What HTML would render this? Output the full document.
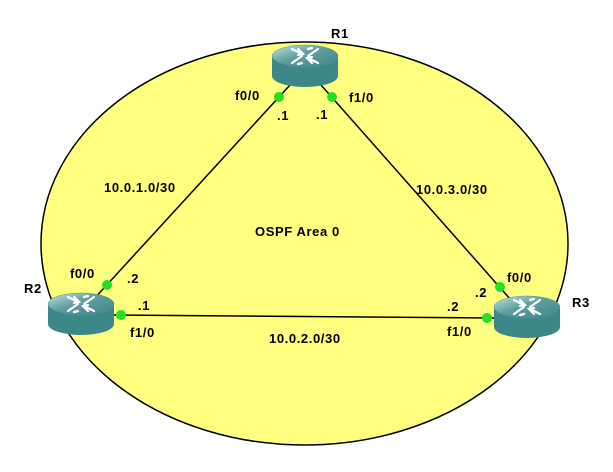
<!DOCTYPE html>
<html><head><style>
html,body{margin:0;padding:0;background:#fff;}
svg text{font-family:"Liberation Sans",sans-serif;font-weight:bold;font-size:13px;letter-spacing:0.6px;fill:#000;}
</style></head><body>
<svg width="613" height="467" viewBox="0 0 613 467" xmlns="http://www.w3.org/2000/svg">
<defs>
<linearGradient id="tg" x1="0" y1="0" x2="1" y2="1">
<stop offset="0" stop-color="#c9e4e4"/><stop offset="0.45" stop-color="#5f9ea0"/><stop offset="1" stop-color="#3f8585"/>
</linearGradient>
<g id="rt">
<path d="M0,11 L0,31 A33,11 0 0 0 66,31 L66,11 Z" fill="#3c8787"/>
<ellipse cx="33" cy="11" rx="33" ry="11" fill="url(#tg)" stroke="#4a9595" stroke-width="0.5"/>
<g stroke="#fff" stroke-width="2.2" fill="none" stroke-linecap="round">
<path d="M20,4 L30,9 M26,4 L31,9 L26,10"/>
<path d="M46,18 L36,13 M40,18 L35,13 L40,12"/>
<path d="M46,4 L36,11 M40,3 L36,4"/>
<path d="M20,18 L30,11 M26,19 L30,18"/>
</g>
</g>
</defs>
<ellipse cx="304.5" cy="243.5" rx="263.5" ry="201.5" fill="#ffff80" stroke="#000" stroke-width="1.5"/>
<g stroke="#000" stroke-width="1.5">
<line x1="290" y1="85" x2="93" y2="300"/>
<line x1="321" y1="85" x2="511" y2="300"/>
<line x1="113" y1="315" x2="494" y2="318"/>
</g>
<use href="#rt" x="272" y="45"/>
<use href="#rt" x="48" y="293"/>
<use href="#rt" x="494" y="296"/>
<g fill="#22e022">
<circle cx="279" cy="97" r="5"/><circle cx="332" cy="97" r="5"/>
<circle cx="107" cy="285" r="5"/><circle cx="121" cy="315" r="5"/>
<circle cx="500" cy="287" r="5"/><circle cx="487" cy="318" r="5"/>
</g>
<text x="331" y="38">R1</text>
<text x="24" y="293">R2</text>
<text x="572" y="307">R3</text>
<text x="255" y="236">OSPF Area 0</text>
<text x="104" y="192">10.0.1.0/30</text>
<text x="416" y="194">10.0.3.0/30</text>
<text x="269" y="343">10.0.2.0/30</text>
<text x="235" y="100">f0/0</text>
<text x="277" y="120">.1</text>
<text x="316" y="119">.1</text>
<text x="349" y="102">f1/0</text>
<text x="70" y="278">f0/0</text>
<text x="127" y="283">.2</text>
<text x="138" y="310">.1</text>
<text x="130" y="337">f1/0</text>
<text x="507" y="282">f0/0</text>
<text x="475" y="297">.2</text>
<text x="447" y="311">.2</text>
<text x="447" y="336">f1/0</text>
</svg>
</body></html>
